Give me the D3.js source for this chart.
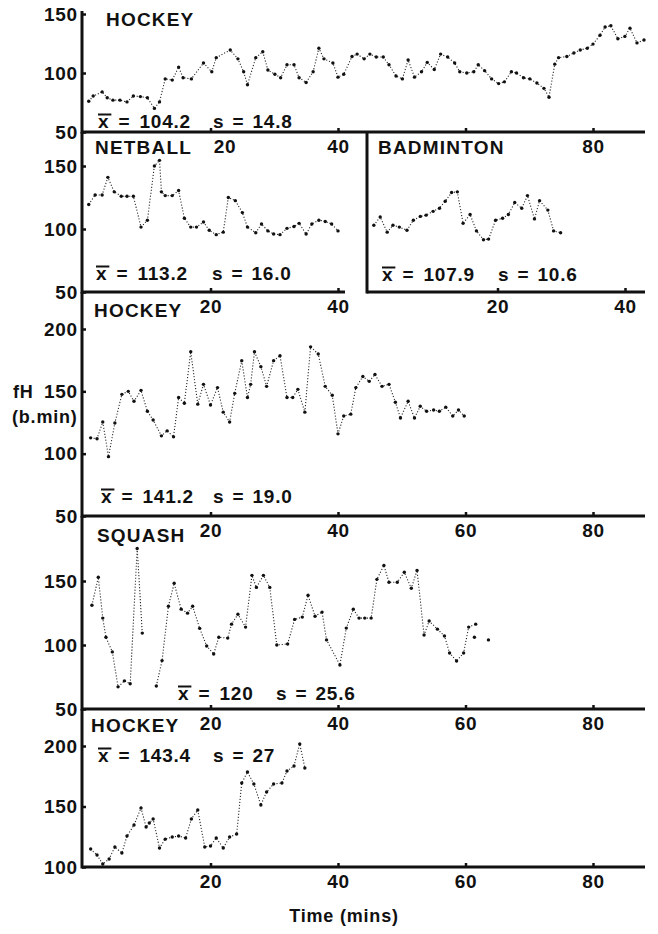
<!DOCTYPE html>
<html><head><meta charset="utf-8">
<script src="https://cdn.jsdelivr.net/npm/d3@7"></script>
<style>body{margin:0;background:#fff}</style>
</head><body>
<svg id="c" width="658" height="934"></svg>
<script>
// ---------- DATA (heart rate, beats/min, vs time in minutes) ----------
const hockeyA_time = [0.9,1.6,3.0,3.8,4.7,5.8,6.9,7.9,9.0,10.1,11.2,12.0,12.9,14.0,15.0,15.7,17.0,18.9,20.2,20.9,23.1,24.3,25.2,25.8,27.1,28.2,29.0,30.1,31.0,32.0,33.1,33.9,35.0,36.1,37.0,37.8,39.2,40.0,40.9,42.2,43.0,44.1,45.0,46.0,47.1,48.0,49.1,50.1,51.0,52.0,53.1,54.0,55.1,56.1,57.2,58.3,59.1,60.2,61.3,62.0,63.0,64.1,65.2,66.1,67.2,68.0,69.1,70.1,71.2,72.3,73.1,74.0,74.6,75.9,77.0,78.0,79.1,80.0,81.1,81.9,82.8,83.9,85.0,85.8,86.9,88.0];
const hockeyA_hr = [76,80.5,84,79,77,77,75.5,80.5,80,79,70,75.5,95,94,105,96,95,108.5,101,113,119.5,112,101,90,113,118,102.5,99,96,107,107,96,92,101,121,112,108.5,96.5,99,114,116,112,116,113.5,113.5,107,97.5,95,111,96.5,101,109,103,116,113.5,108.5,101,100,101,107,102,95,91,92.5,101,100,96,95,91.5,87,79.5,107.5,113,114,117,119.5,121,124.5,132,139,140,129,131,138,125.5,128];

const netball_time = [0.9,1.9,3.0,3.9,4.9,6.0,6.9,7.9,9.1,10.1,11.2,12.0,12.3,12.9,14.0,15.0,15.9,16.9,17.8,18.9,19.8,20.9,22.0,22.8,23.9,25.0,25.8,27.1,28.0,29.0,29.9,30.9,32.0,33.1,33.9,35.0,35.9,37.0,38.0,39.0,40.0];
const netball_hr = [119.5,127,127,141,129.5,126,126,126,101.5,107,150,154.5,129.5,126.5,126.5,130.5,108.5,101.5,101.5,105.5,99,95.5,97.5,125,122.5,113,101.5,97,104,98.5,96,95.5,100.5,102,104.5,96,104,107,106,104,98.5];

const badminton_time = [0.6,1.6,2.7,3.6,4.6,5.8,6.8,7.9,8.8,9.9,10.9,11.8,12.8,13.7,14.6,15.7,16.7,17.8,18.6,19.7,20.8,21.7,22.7,23.8,24.7,25.8,26.6,27.9,28.8,29.9];
const badminton_hr = [103,109.5,97.5,103,101.5,99,107,110,111,114,116.5,122,129,129.5,104.5,111.5,98.5,91.5,92,107,108.5,111.5,121,116.5,126.5,108,122.5,115,98.5,97];

const hockeyB_time = [1.2,2.2,3.1,4.0,5.0,6.1,7.1,8.0,9.1,10.1,11.0,12.3,13.2,14.2,15.0,15.9,16.9,18.0,18.9,20.0,21.1,22.0,23.0,23.8,24.9,25.8,26.3,26.9,27.9,28.8,29.9,30.9,32.0,32.9,33.7,34.8,35.7,36.9,38.0,39.1,40.0,40.9,42.0,42.8,43.9,44.9,45.8,46.9,48.0,49.0,49.8,51.0,52.0,52.9,53.9,55.0,55.9,56.9,58.0,58.9,59.8];
const hockeyB_hr = [112.7,112,125.4,97.6,124.6,147.6,150,142,150.8,134,127,114.3,118.3,113.5,145,140.5,181.7,139.7,155.6,139,153,133.3,125.4,148.4,174.6,145,155.6,181.7,169.8,154,174.6,178.6,145,145,151.6,133.3,185.7,180,154,146.8,115.9,130.2,131.7,153,161.9,158,163.5,154,155.6,141.3,128.6,142,128.6,138,134,135,134,137.3,130.2,135,130.2];

// null = break in the trace
const squash_time = [1.4,2.4,3.1,3.6,4.6,5.5,6.5,7.4,8.5,9.3,10.4,11.5,12.4,13.4,14.3,15.4,16.4,17.2,18.3,19.4,20.5,21.3,22.7,23.3,24.3,25.5,26.5,27.2,28.3,29.3,30.4,32.1,33.2,34.4,35.3,36.4,37.5,38.2,40.3,41.3,42.4,43.3,44.2,45.2,46.1,47.2,48.0,49.3,50.4,51.5,52.4,53.5,54.3,55.6,56.7,57.5,58.6,59.7,60.5,61.6,61.5,61.4,62.5,63.6];
const squash_hr = [131,152.9,121,106,94.6,67.3,72,69.7,175.4,109.3,null,68,87.8,130.3,148.2,128,124.9,130.3,113,99.2,93,106,105.4,116.3,124,114,154.4,145,154.4,145,100,100.8,120,121.8,138.9,122.5,125.7,104,84.4,113.2,128,121,121,121,151.3,162.2,149,149,156.8,144.3,158.3,107.8,118.7,112.4,107,93.8,87.5,93.8,114,116.3,null,106,null,104];

const hockeyC_time = [1.2,2.2,3.1,4.1,5.0,6.1,6.9,8.0,9.1,9.9,10.4,11.0,12.0,12.9,14.0,15.0,16.1,17.0,18.0,19.1,20.0,20.9,22.0,23.0,24.1,24.9,25.8,26.8,27.9,28.8,29.9,31.2,32.0,33.1,34.0,34.8];
const hockeyC_hr = [114.9,109.9,102.5,106.6,116.5,111.6,125.6,134.7,148.8,133,136.4,139.7,115.7,123,124.8,125.6,124,139.7,147.1,116.5,117.4,124,115.7,124.8,127.3,169.4,178.5,168.6,151.2,162,168.6,169.4,179.3,183.5,201.7,181.8];

const titles = ["HOCKEY","NETBALL","BADMINTON","HOCKEY","SQUASH","HOCKEY"];
const means = ["104.2","113.2","107.9","141.2","120","143.4"];
const sds = ["14.8","16.0","10.6","19.0","25.6","27"];
const xTickValues = [20,40,60,80];
const yTitle = ["fH","(b.min)"];
const xTitle = "Time (mins)";

// ---------- LAYOUT ----------
const FONT = "'Liberation Sans', Arial, Helvetica, sans-serif";
const PX_PER_MIN = 6.375;
const panels = [
  {t:hockeyA_time, v:hockeyA_hr, left:82, right:645, top:11, bottom:132, x0:83,
   yDom:[50,150], yRng:[132,14], yTicks:[50,100,150], xTicks:[20,40,60,80], xLabels:[20,40,80], labelDx:{20:14},
   tx:106, ty:26, mx:98, sx:213, my:128},
  {t:netball_time, v:netball_hr, left:82, right:345, top:132, bottom:292, x0:83,
   yDom:[50,150], yRng:[292,166], yTicks:[50,100,150], xTicks:[20,40], xLabels:[20,40], labelDx:{},
   tx:95, ty:154, mx:96, sx:212, my:280},
  {t:badminton_time, v:badminton_hr, left:367, right:645, top:132, bottom:292, x0:370,
   yDom:[50,150], yRng:[292,166], yTicks:[], xTicks:[20,40], xLabels:[20,40], labelDx:{},
   tx:378, ty:154, mx:382, sx:498, my:281},
  {t:hockeyB_time, v:hockeyB_hr, left:82, right:645, top:292, bottom:516, x0:83,
   yDom:[50,200], yRng:[516,329], yTicks:[50,100,150,200], xTicks:[20,40,60,80], xLabels:[20,40,60,80], labelDx:{},
   tx:94, ty:317, mx:101, sx:213, my:503},
  {t:squash_time, v:squash_hr, left:82, right:645, top:516, bottom:709, x0:83,
   yDom:[50,150], yRng:[709,581], yTicks:[50,100,150], xTicks:[20,40,60,80], xLabels:[20,40,60,80], labelDx:{},
   tx:97, ty:542, mx:178, sx:276, my:700},
  {t:hockeyC_time, v:hockeyC_hr, left:82, right:645, top:709, bottom:867, x0:83,
   yDom:[100,200], yRng:[867,746], yTicks:[100,150,200], xTicks:[20,40,60,80], xLabels:[20,40,60,80], labelDx:{},
   tx:91, ty:732, mx:98, sx:213, my:762}
];

const svg = d3.select("#c");
svg.append("rect").attr("width",658).attr("height",934).attr("fill","#fff");
const INK = "#111";

panels.forEach((p, i) => {
  const x = d3.scaleLinear().domain([0,80]).range([p.x0, p.x0 + 80*PX_PER_MIN]);
  const y = d3.scaleLinear().domain(p.yDom).range(p.yRng);
  const g = svg.append("g");
  const pts = p.t.map((t,k) => ({t, v:p.v[k]}));

  // trace
  const line = d3.line().defined(d => d.v != null).x(d => x(d.t)).y(d => y(d.v));
  g.append("path").datum(pts).attr("d", line)
    .attr("fill","none").attr("stroke","#222").attr("stroke-width",1.1)
    .attr("stroke-dasharray","1.1,1.9");
  g.selectAll("circle").data(pts.filter(d => d.v != null)).join("circle")
    .attr("cx", d => x(d.t)).attr("cy", d => y(d.v)).attr("r",1.7).attr("fill",INK);

  // axes (ticks + labels via d3 axes)
  const xa = d3.axisBottom(x).tickValues(p.xTicks).tickSizeInner(-4).tickSizeOuter(0).tickPadding(8)
    .tickFormat(d => p.xLabels.includes(d) ? d : "");
  const gx = g.append("g").attr("transform",`translate(0,${p.bottom})`).call(xa);
  gx.select(".domain").remove();
  gx.selectAll(".tick line").attr("stroke",INK).attr("stroke-width",2.5);
  gx.selectAll(".tick text").attr("dx", d => p.labelDx[d] || 0);

  if (p.yTicks.length) {
    const ya = d3.axisLeft(y).tickValues(p.yTicks).tickSizeInner(-4).tickSizeOuter(0).tickPadding(4);
    const gy = g.append("g").attr("transform",`translate(${p.left},0)`).call(ya);
    gy.select(".domain").remove();
    gy.selectAll(".tick line").attr("stroke",INK).attr("stroke-width",2.5);
  }
  g.selectAll(".tick text").attr("font-family",FONT).attr("font-size",19).attr("font-weight","bold")
    .attr("letter-spacing","0.8px").attr("fill",INK);

  // heavy axis lines
  g.append("line").attr("x1",p.left).attr("x2",p.left).attr("y1",p.top).attr("y2",p.bottom+1.5)
    .attr("stroke",INK).attr("stroke-width",3);
  g.append("line").attr("x1",p.left).attr("x2",p.right).attr("y1",p.bottom).attr("y2",p.bottom)
    .attr("stroke",INK).attr("stroke-width",3);

  // title
  g.append("text").attr("x",p.tx).attr("y",p.ty).text(titles[i])
    .attr("font-family",FONT).attr("font-size",19).attr("font-weight","bold")
    .attr("letter-spacing","1.2px").attr("fill",INK);

  // statistics
  const st = g.append("text").attr("x",p.mx).attr("y",p.my)
    .attr("font-family",FONT).attr("font-size",19).attr("font-weight","bold")
    .attr("letter-spacing","0.8px").attr("word-spacing","3px").attr("fill",INK)
    .text("x = " + means[i]);
  const xw = st.node().getSubStringLength(0,1);
  g.append("line").attr("x1",p.mx).attr("x2",p.mx + xw + 2).attr("y1",p.my-13.5).attr("y2",p.my-13.5)
    .attr("stroke",INK).attr("stroke-width",2);
  g.append("text").attr("x",p.sx).attr("y",p.my)
    .attr("font-family",FONT).attr("font-size",19).attr("font-weight","bold")
    .attr("letter-spacing","0.8px").attr("word-spacing","2px").attr("fill",INK)
    .text("s = " + sds[i]);
});

// axis titles
svg.append("text").attr("x",13).attr("y",398).text(yTitle[0])
  .attr("font-family",FONT).attr("font-size",18).attr("font-weight","bold").attr("letter-spacing","0.8px").attr("fill",INK);
svg.append("text").attr("x",12).attr("y",423).text(yTitle[1])
  .attr("font-family",FONT).attr("font-size",18).attr("font-weight","bold").attr("letter-spacing","0.8px").attr("fill",INK);
svg.append("text").attr("x",344).attr("y",922).attr("text-anchor","middle").text(xTitle)
  .attr("font-family",FONT).attr("font-size",18).attr("font-weight","bold").attr("letter-spacing","0.8px").attr("fill",INK);
</script>
</body></html>
